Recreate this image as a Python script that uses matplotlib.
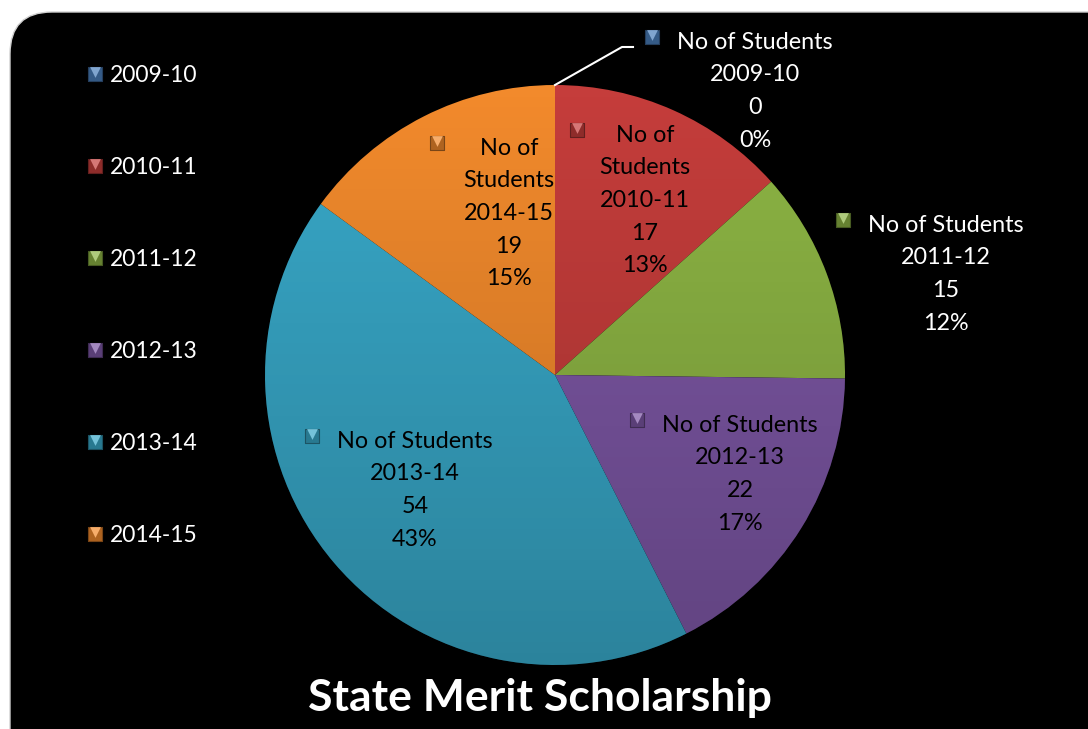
import matplotlib
matplotlib.use('Agg')
import matplotlib.pyplot as plt
import numpy as np
from matplotlib.patches import FancyBboxPatch, Circle
from matplotlib.colors import to_rgb

# data
years = ['2009-10', '2010-11', '2011-12', '2012-13', '2013-14', '2014-15']
students = [0, 17, 15, 22, 54, 19]
series_name = 'No of Students'
title = 'State Merit Scholarship'

colors = ['#4A7EBB', '#C53D3B', '#8DB544', '#7D57A5', '#38A8C8', '#F28A2C']

W, H = 1088, 729
plt.rcParams['font.family'] = ['Lato', 'DejaVu Sans']

fig = plt.figure(figsize=(W / 100, H / 100), dpi=100)
fig.patch.set_facecolor('white')
ax = fig.add_axes([0, 0, 1, 1])


def py(y):
    # pixel row (from top) -> data y
    return H - y


def shade(c, f):
    rgb = np.array(to_rgb(c))
    if f < 1:
        return tuple(rgb * f)
    return tuple(rgb + (1 - rgb) * (f - 1))


def bevel_marker(x, y, c):
    # small square key with a lighter top facet, like the Office bevel
    ax.scatter([x], [y], marker='s', s=100, color=shade(c, 0.72),
               edgecolors=shade(c, 0.5), linewidths=0.8, zorder=5)
    ax.scatter([x], [y + 2.5], marker='v', s=60, color=shade(c, 1.3),
               linewidths=0, zorder=6)


# black rounded panel
panel = FancyBboxPatch((10, -60), W + 60, py(12) + 60,
                       boxstyle='round,pad=0,rounding_size=42',
                       facecolor='black', edgecolor='#d0d0d0', linewidth=1, zorder=0)
ax.add_patch(panel)

# pie
cx, cy, r = 555, py(375), 290
wedges, _ = ax.pie(students, colors=colors, startangle=90, counterclock=False,
                   center=(cx, cy), radius=r, frame=True,
                   wedgeprops=dict(linewidth=0))

# soft shading, darker toward the bottom
grad = np.zeros((200, 2, 4))
grad[..., 3] = np.linspace(0.0, 0.22, 200)[:, None]
im = ax.imshow(grad, extent=(cx - r, cx + r, cy - r, cy + r), origin='upper',
               aspect='auto', zorder=3)
im.set_clip_path(Circle((cx, cy), r, transform=ax.transData))

ax.set_xlim(0, W)
ax.set_ylim(0, H)
ax.set_aspect('equal')
ax.axis('off')

total = sum(students)
pcts = [round(v / total * 100) for v in students]

# label layout: (centre x, first line y in px, marker offset, split first line, text colour)
label_layout = [
    (755, 42, -103, False, 'white'),
    (645, 135, -68, True, 'black'),
    (946, 225, -103, False, 'white'),
    (740, 425, -103, False, 'black'),
    (415, 441, -103, False, 'black'),
    (509, 148, -72, True, 'black'),
]
line_step = 32.7
fs = 16.8

for i, (lx, ly, mdx, split, tc) in enumerate(label_layout):
    if split:
        lines = ['No of', 'Students']
    else:
        lines = [series_name]
    lines += [years[i], str(students[i]), f'{pcts[i]}%']
    for k, s in enumerate(lines):
        ax.text(lx, py(ly + k * line_step), s, ha='center', va='center',
                fontsize=fs, color=tc, zorder=5)
    bevel_marker(lx + mdx, py(ly - 5), colors[i])

# leader line for the zero slice
a = np.deg2rad(90)
x0, y0 = cx + r * np.cos(a), cy + r * np.sin(a)
ax.plot([x0, 622, 633], [y0, py(47), py(47)], color='white', lw=1.5, zorder=5)

# legend on the left
for i, yr in enumerate(years):
    ly = 74 + i * 92
    bevel_marker(95, py(ly), colors[i])
    ax.text(110, py(ly + 1), yr, ha='left', va='center', fontsize=16.5,
            color='white', zorder=5)

ax.text(540, py(698), title, ha='center', va='center', fontsize=32,
        fontweight='bold', color='white', zorder=5)

fig.savefig('out.png', dpi=100, facecolor='white')
